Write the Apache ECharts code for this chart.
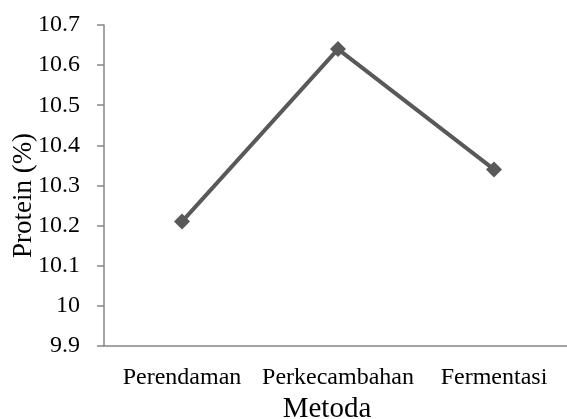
<!DOCTYPE html>
<html><head><meta charset="utf-8">
<script src="https://cdn.jsdelivr.net/npm/echarts@6/dist/echarts.min.js"></script>
<style>html,body{margin:0;padding:0;background:#fff}#c{width:567px;height:419px}</style>
</head><body><div id="c"></div>
<script>
var categories = ['Perendaman', 'Perkecambahan', 'Fermentasi'];
var protein = [10.21, 10.64, 10.34];
var yMin = 9.9, yMax = 10.7, yStep = 0.1;
var chart = echarts.init(document.getElementById('c'));
var font = '"Liberation Serif", "Times New Roman", serif';
chart.setOption({
  animation: false,
  grid: {left: 104, right: -5, top: 25, bottom: 73, containLabel: false, outerBoundsMode: 'none'},
  xAxis: {
    type: 'category', data: categories, boundaryGap: true,
    name: 'Metoda', nameLocation: 'middle', nameGap: 63, nameMoveOverlap: false,
    nameTextStyle: {fontFamily: font, fontSize: 29, color: '#000', verticalAlign: 'middle', padding: [0, 22, 0, 0]},
    axisLine: {lineStyle: {color: '#868686', width: 1.5}},
    axisTick: {show: false},
    axisLabel: {fontFamily: font, fontSize: 24, color: '#000', margin: 20, interval: 0, hideOverlap: false}
  },
  yAxis: {
    type: 'value', min: yMin, max: yMax, interval: yStep,
    name: 'Protein (%)', nameLocation: 'middle', nameGap: 67, nameMoveOverlap: false,
    nameTextStyle: {fontFamily: font, fontSize: 27, color: '#000', padding: [0, 20, 0, 0]},
    axisLine: {show: true, lineStyle: {color: '#868686', width: 1.5}},
    axisTick: {show: true, length: 7, lineStyle: {color: '#868686', width: 1.5}},
    splitLine: {show: false},
    axisLabel: {fontFamily: font, fontSize: 24, color: '#000', margin: 24,
      formatter: function (v) { return String(Math.round(v * 10) / 10); }}
  },
  series: [{
    type: 'line', data: protein,
    symbol: 'diamond', symbolSize: 16,
    lineStyle: {color: '#595959', width: 4},
    itemStyle: {color: '#595959'}
  }]
});
</script></body></html>
